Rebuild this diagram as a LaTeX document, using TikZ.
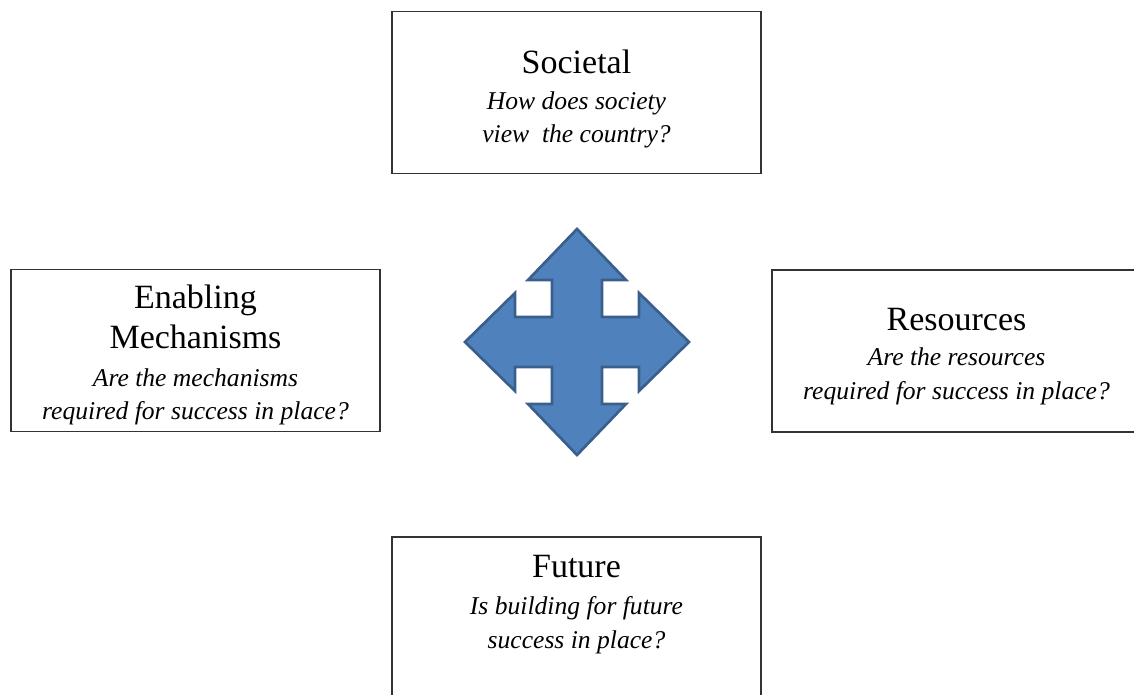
\documentclass[tikz,border=0pt]{standalone}
\usepackage{fontspec}
\setmainfont{Liberation Serif}
\usepackage{tikz}
\usetikzlibrary{positioning}
\definecolor{crossfill}{HTML}{4F81BD}
\definecolor{crossedge}{HTML}{3A5F8D}

\begin{document}
\begin{tikzpicture}[x=0.75pt, y=-0.75pt,
    panel/.style={draw=black!80, line width=1.3pt, minimum width=276.75pt,
                  minimum height=121.5pt, inner sep=0pt},
    question/.style={align=center, inner sep=0pt,
                  font=\itshape\fontsize{19.2}{25}\selectfont}]
  \useasboundingbox (0,0) rectangle (1134,695);
  \clip (0,0) rectangle (1134,695);
  % four boxes
  \node [panel] (soc) at (576.5,92.5) {};
  \node [panel] (ena) at (195.5,350.5) {};
  \node [panel] (res) at (956.5,351) {};
  \node [panel, minimum height=135pt] (fut) at (576.5,627) {};
  % texts
  \node [question, yshift=-5pt] (soct) at (soc) {{\fontsize{25.5}{31}\upshape\selectfont Societal}\\[1.5pt]How does society\\view\ \ the country?};
  \node [question, yshift=-3.5pt] (enat) at (ena) {{\fontsize{25.5}{31}\upshape\selectfont Enabling}\\[5pt]{\fontsize{25.5}{31}\upshape\selectfont Mechanisms}\\[3pt]Are the mechanisms\\required for success in place?};
  \node [question, yshift=-4pt] (rest) at (res) {{\fontsize{25.5}{31}\upshape\selectfont Resources}\\[1.5pt]Are the resources\\required for success in place?};
  \node [question, below=14pt of fut.north] (futt) {{\fontsize{25.5}{31}\upshape\selectfont Future}\\[2.5pt]Is building for future\\[1pt]success in place?};
  % four-way arrow
  \coordinate (c) at (577,342);
  \draw [fill=crossfill, draw=crossedge, line width=2pt, line join=miter, shift={(c)}]
    (0,-113) -- (49,-62) -- (25,-62) -- (25,-25) -- (62,-25) -- (62,-49)
    -- (112,0) -- (62,49) -- (62,25) -- (25,25) -- (25,62) -- (49,62)
    -- (0,113) -- (-49,62) -- (-25,62) -- (-25,25) -- (-62,25) -- (-62,49)
    -- (-112,0) -- (-62,-49) -- (-62,-25) -- (-25,-25) -- (-25,-62) -- (-49,-62)
    -- cycle;
\end{tikzpicture}
\end{document}
